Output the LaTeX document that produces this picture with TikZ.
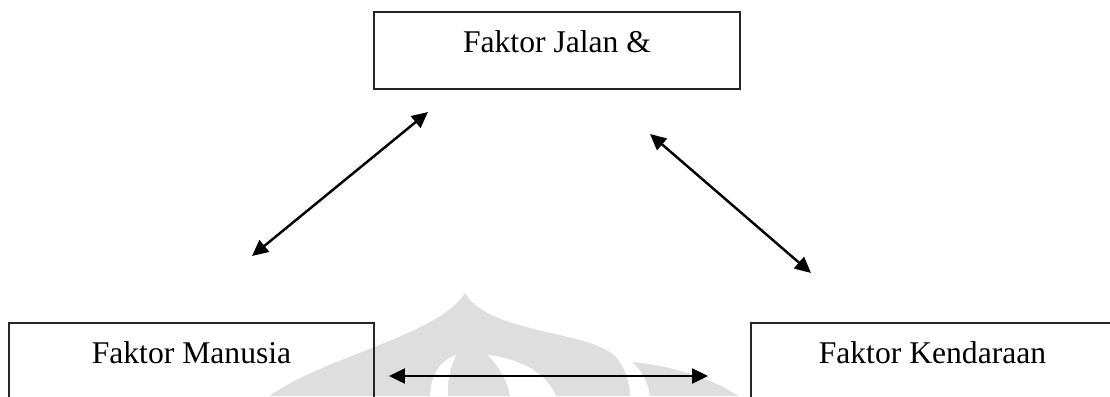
\documentclass[tikz,border=0pt]{standalone}
\usepackage{fontspec}
\setmainfont{Liberation Serif}
\usetikzlibrary{arrows.meta}

\begin{document}
\begin{tikzpicture}[x=0.02cm, y=-0.02cm,
	faktor/.style={draw=black!85, line width=0.8pt, inner xsep=0pt, inner ysep=0pt,
		text height=0.8cm, anchor=base, font=\fontsize{18}{22}\selectfont},
	panah/.style={{Triangle[length=0.32cm,width=0.3cm]}-{Triangle[length=0.32cm,width=0.3cm]}, line width=1.4pt},
	latar/.style={fill=black!13, draw=none}]
	\clip (0,0) rectangle (1110,396);
	\useasboundingbox (0,0) rectangle (1110,396);
	
	% logo samar di belakang
	\fill[latar] (270,396) .. controls (320,358) and (440,335) .. (465,293)
	.. controls (490,335) and (592,330) .. (617,358)
	.. controls (627,372) and (630,385) .. (630,396) -- cycle;
	\fill[latar] (632,362) .. controls (675,366) and (715,380) .. (738,396)
	-- (650,396) .. controls (648,383) and (642,370) .. cycle;
	\fill[white] (430,396) .. controls (431,374) and (440,361) .. (456,355)
	.. controls (450,368) and (447,382) .. (448,396) -- cycle;
	\fill[white] (556,396) .. controls (547,374) and (522,359) .. (488,355)
	.. controls (500,368) and (508,382) .. (510,396) -- cycle;
	
	% kotak faktor
	\node[faktor, minimum width=7.32cm, text depth=0.74cm] (jalan) at (557,52) {Faktor Jalan \&};
	\node[faktor, minimum width=7.30cm, text depth=1.2cm] (manusia) at (191.5,363) {Faktor Manusia};
	\node[faktor, minimum width=7.26cm, text depth=1.2cm] (kendaraan) at (932.5,363) {Faktor Kendaraan};
	
	% ujung panah
	\coordinate (jm1) at (428,112);
	\coordinate (jm2) at (252,256);
	\coordinate (jk1) at (650,134);
	\coordinate (jk2) at (811,273);
	\coordinate (mk1) at (389,376);
	\coordinate (mk2) at (708,376);
	
	% hubungan antar faktor
	\draw[panah] (jm2) -- (jm1);
	\draw[panah] (jk1) -- (jk2);
	\draw[panah] (mk1) -- (mk2);
\end{tikzpicture}
\end{document}
